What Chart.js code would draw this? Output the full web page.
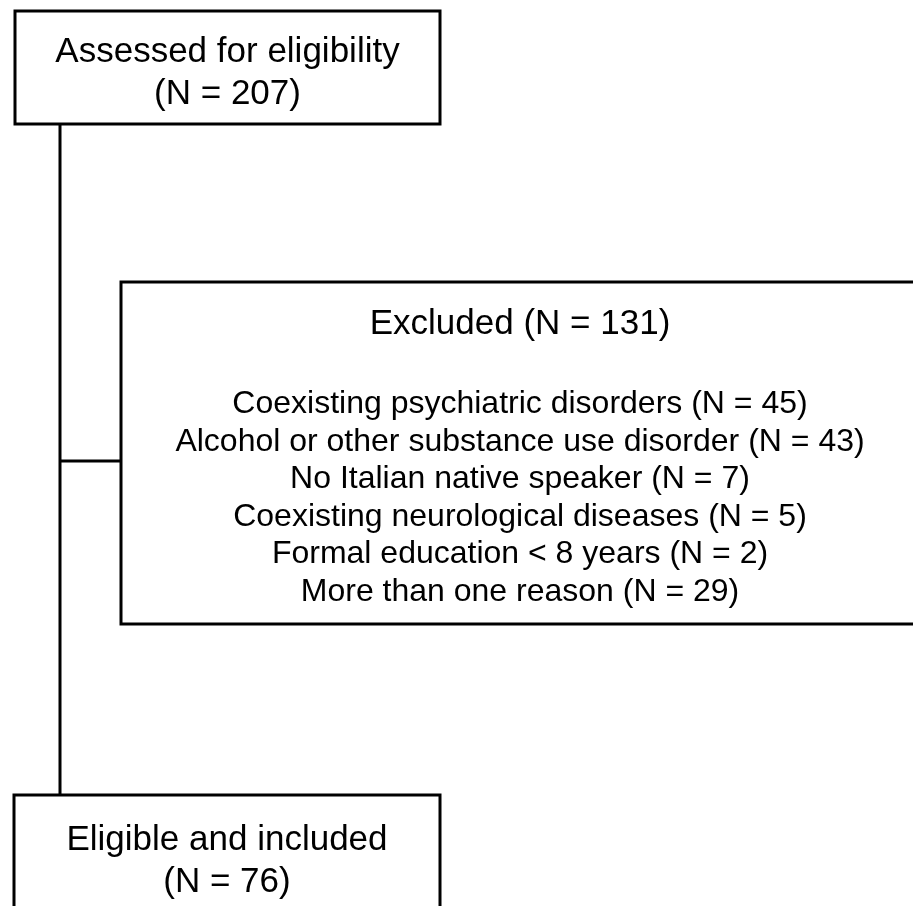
<!DOCTYPE html>
<html>
<head>
<meta charset="utf-8">
<script src="https://cdn.jsdelivr.net/npm/chart.js@4"></script>
<style>
  html, body { margin: 0; padding: 0; background: #fff; }
  canvas { display: block; }
</style>
</head>
<body>
<canvas id="flow" width="913" height="906"></canvas>
<script>
// flow stages and their counts
const stageLabels = ['Assessed for eligibility', 'Excluded', 'Eligible and included'];
const stageCounts = [207, 131, 76];

// reasons for exclusion
const exclusionReasons = [
  'Coexisting psychiatric disorders',
  'Alcohol or other substance use disorder',
  'No Italian native speaker',
  'Coexisting neurological diseases',
  'Formal education < 8 years',
  'More than one reason'
];
const exclusionCounts = [45, 43, 7, 5, 2, 29];

// box geometry in axis units (axes run 0..913 and 0..906, y downwards)
const boxes = [
  { x0: 15, x1: 440, y0: 11, y1: 124 },
  { x0: 121, x1: 919, y0: 282, y1: 624 },
  { x0: 14, x1: 440, y0: 795, y1: 925 }
];
const spineX = 60;
const branchY = 461;

const FONT = '"Liberation Sans", Arial, Helvetica, sans-serif';

const flowPlugin = {
  id: 'flow',
  afterDraw(chart) {
    const ctx = chart.ctx;
    const xs = chart.scales.x, ys = chart.scales.y;
    const px = v => xs.getPixelForValue(v);
    const py = v => ys.getPixelForValue(v);

    ctx.save();
    ctx.strokeStyle = '#000';
    ctx.lineWidth = 3;

    // connectors
    ctx.beginPath();
    ctx.moveTo(px(spineX), py(boxes[0].y1));
    ctx.lineTo(px(spineX), py(boxes[2].y0));
    ctx.moveTo(px(spineX), py(branchY));
    ctx.lineTo(px(boxes[1].x0), py(branchY));
    ctx.stroke();

    // boxes
    boxes.forEach(b => {
      ctx.fillStyle = '#fff';
      ctx.fillRect(px(b.x0), py(b.y0), px(b.x1) - px(b.x0), py(b.y1) - py(b.y0));
      ctx.strokeRect(px(b.x0), py(b.y0), px(b.x1) - px(b.x0), py(b.y1) - py(b.y0));
    });

    ctx.fillStyle = '#000';
    ctx.textAlign = 'center';
    ctx.textBaseline = 'alphabetic';

    // first box
    let cx = px((boxes[0].x0 + boxes[0].x1) / 2);
    ctx.font = '35px ' + FONT;
    ctx.fillText(stageLabels[0], cx, py(62));
    ctx.fillText('(N = ' + stageCounts[0] + ')', cx, py(104));

    // excluded box
    cx = px((boxes[1].x0 + boxes[1].x1) / 2);
    ctx.fillText(stageLabels[1] + ' (N = ' + stageCounts[1] + ')', cx, py(334));
    ctx.font = '32px ' + FONT;
    exclusionReasons.forEach((r, i) => {
      ctx.fillText(r + ' (N = ' + exclusionCounts[i] + ')', cx, py(413 + i * 37.6));
    });

    // last box
    cx = px((boxes[2].x0 + boxes[2].x1) / 2);
    ctx.font = '35px ' + FONT;
    ctx.fillText(stageLabels[2], cx, py(850));
    ctx.fillText('(N = ' + stageCounts[2] + ')', cx, py(892));

    ctx.restore();
  }
};

new Chart(document.getElementById('flow').getContext('2d'), {
  type: 'scatter',
  data: { datasets: [{ data: [], pointRadius: 0 }] },
  options: {
    responsive: false,
    animation: false,
    layout: { padding: 0 },
    plugins: { legend: { display: false }, tooltip: { enabled: false } },
    scales: {
      x: { type: 'linear', min: 0, max: 913, display: false },
      y: { type: 'linear', min: 0, max: 906, reverse: true, display: false }
    }
  },
  plugins: [flowPlugin]
});
</script>
</body>
</html>
